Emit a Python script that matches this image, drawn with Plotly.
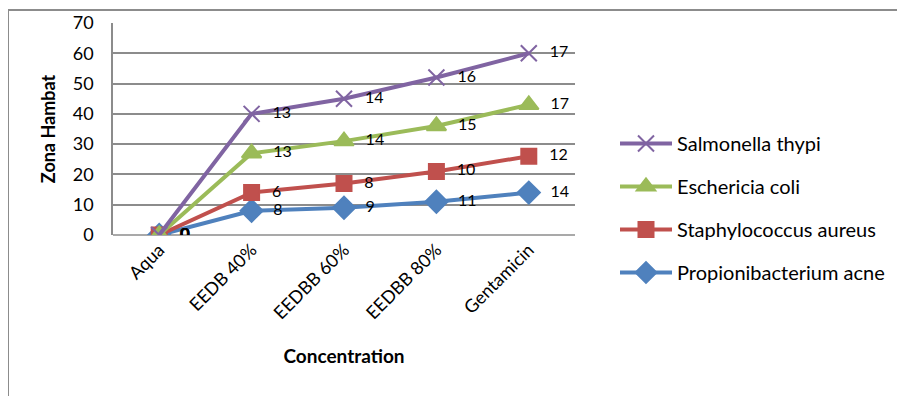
import plotly.graph_objects as go

categories = ["Aqua", "EEDB 40%", "EEDBB 60%", "EEDBB 80%", "Gentamicin"]
propionibacterium = [0, 8, 9, 11, 14]
staphylococcus = [0, 6, 8, 10, 12]
escherichia = [0, 13, 14, 15, 17]
salmonella = [0, 13, 14, 16, 17]

series = [
    ("Propionibacterium acne", propionibacterium, "#4F81BD", "diamond", 17, 4),
    ("Staphylococcus aureus", staphylococcus, "#C0504D", "square", 15, 3),
    ("Eschericia coli", escherichia, "#9BBB59", "triangle-up", 17, 2),
    ("Salmonella thypi", salmonella, "#8064A2", "x-thin-open", 16, 1),
]

FONT = "Lato, 'Open Sans', sans-serif"
fig = go.Figure()
for name, vals, color, sym, sz, rank in series:
    fig.add_trace(go.Scatter(
        x=categories, y=vals, name=name, stackgroup="one", fill="none",
        mode="lines+markers+text", text=["\u2002\u2009" + str(v) for v in vals],
        textposition="middle right", textfont=dict(size=16, color="#000", family=FONT),
        line=dict(color=color, width=4),
        marker=dict(symbol=sym, size=sz, color=color,
                    line=dict(color=color, width=2)),
        legendgroup=name, legendrank=rank,
        hoverinfo="x+y+name",
    ))

# page body has an 8px margin; screen coords = figure coords + 8
OFF = 8
W, H = 905 - OFF, 396 - OFF
l, t = 113 - OFF, 23 - OFF
r = W - (575 - OFF)
b = H - (235 - OFF)
pw, ph = W - l - r, H - t - b

def px(x):
    return (x - OFF - l) / pw

def py(y):
    return (H - b - (y - OFF)) / ph

fig.update_layout(
    width=W, height=H,
    margin=dict(l=l, r=r, t=t, b=b, autoexpand=False),
    paper_bgcolor="white", plot_bgcolor="white",
    font=dict(family=FONT, size=18, color="#000"),
    showlegend=True,
    legend=dict(x=px(615), y=py(124), xanchor="left", yanchor="top",
                traceorder="grouped", tracegroupgap=14,
                font=dict(size=20, family=FONT), itemwidth=52,
                bgcolor="rgba(0,0,0,0)"),
    xaxis=dict(
        type="category", range=[-0.5, 4.5], tickangle=-45, automargin=False,
        showline=False, showgrid=False, ticks="",
        tickfont=dict(size=18, family=FONT),
        title=dict(text="<b>Concentration</b>", font=dict(size=19, family=FONT), standoff=27),
    ),
    yaxis=dict(
        range=[0, 70], dtick=10, showgrid=True, gridcolor="#8C8C8C", gridwidth=1.5,
        showline=True, linecolor="#8C8C8C", linewidth=1.5, zeroline=False,
        ticks="", ticklabelstandoff=14, automargin=False,
        tickfont=dict(size=18, family=FONT),
        title=dict(text="<b>Zona Hambat</b>", font=dict(size=18, family=FONT), standoff=12),
    ),
    shapes=[
        dict(type="line", xref="paper", yref="paper", x0=0, x1=1, y0=0, y1=0,
             line=dict(color="#8C8C8C", width=1.5), layer="below"),
        dict(type="rect", xref="paper", yref="paper",
             x0=px(8), x1=px(920), y0=py(10), y1=py(410),
             line=dict(color="#8C8C8C", width=2), layer="below"),
    ],
)

fig.write_html("out.html")
